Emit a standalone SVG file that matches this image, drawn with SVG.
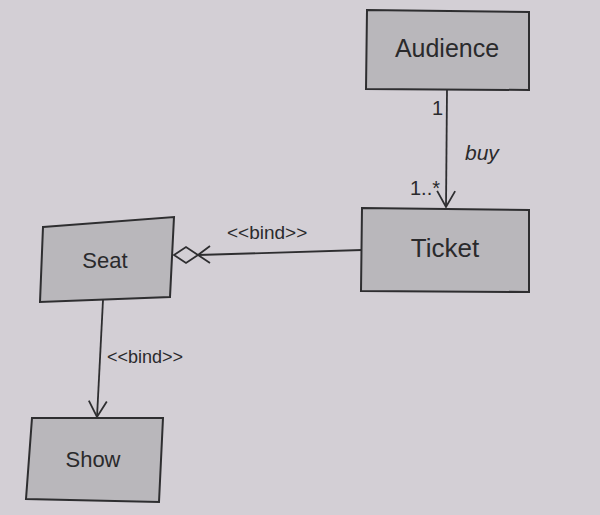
<svg xmlns="http://www.w3.org/2000/svg" width="600" height="515" viewBox="0 0 600 515">
<style>
.box{fill:#b9b7bb;stroke:#2e2e30;stroke-width:2}
.name{font-family:"Liberation Sans",Arial,sans-serif;fill:#2a2a2c;text-anchor:middle}
.lbl{font-family:"Liberation Sans",Arial,sans-serif;fill:#2a2a2c}
.edge{stroke:#2e2e30;stroke-width:1.8;fill:none}
</style>
<defs>
<marker id="open" viewBox="0 0 20 20" refX="18" refY="10" markerWidth="20" markerHeight="20" markerUnits="userSpaceOnUse" orient="auto">
<path d="M2,1 L18,10 L2,19" fill="none" stroke="#2e2e30" stroke-width="1.8"/>
</marker>
</defs>
<rect width="600" height="515" fill="#d3cfd5"/>
<g id="connectors">
<g id="buy">
<line class="edge" x1="447" y1="90" x2="446" y2="207" marker-end="url(#open)"/>
<text class="lbl" x="432" y="115" font-size="20">1</text>
<text class="lbl" x="465" y="160" font-size="21" font-style="italic">buy</text>
<text class="lbl" x="410" y="195" font-size="20">1..*</text>
</g>
<g id="bind1">
<line class="edge" x1="362" y1="250" x2="198" y2="255"/>
<path class="edge" d="M174,255 L186,247 L198,255 L186,263 Z"/>
<path class="edge" d="M210,246 L198,255 L210,263"/>
<text class="lbl" x="227" y="239" font-size="19">&lt;&lt;bind&gt;&gt;</text>
</g>
<g id="bind2">
<line class="edge" x1="103" y1="300" x2="97" y2="417" marker-end="url(#open)"/>
<text class="lbl" x="107" y="363" font-size="18">&lt;&lt;bind&gt;&gt;</text>
</g>
</g>
<g id="audience">
<polygon class="box" points="367,10 529,12 529,90 366,89"/>
<text class="name" x="447" y="57" font-size="25">Audience</text>
</g>
<g id="ticket">
<polygon class="box" points="362,208 529,210 529,292 361,291"/>
<text class="name" x="445" y="257" font-size="26">Ticket</text>
</g>
<g id="seat">
<polygon class="box" points="43,227 174,217 170,297 40,302"/>
<text class="name" x="105" y="268" font-size="22">Seat</text>
</g>
<g id="show">
<polygon class="box" points="32,418 163,418 159,502 26,499"/>
<text class="name" x="93" y="467" font-size="22">Show</text>
</g>
</svg>
